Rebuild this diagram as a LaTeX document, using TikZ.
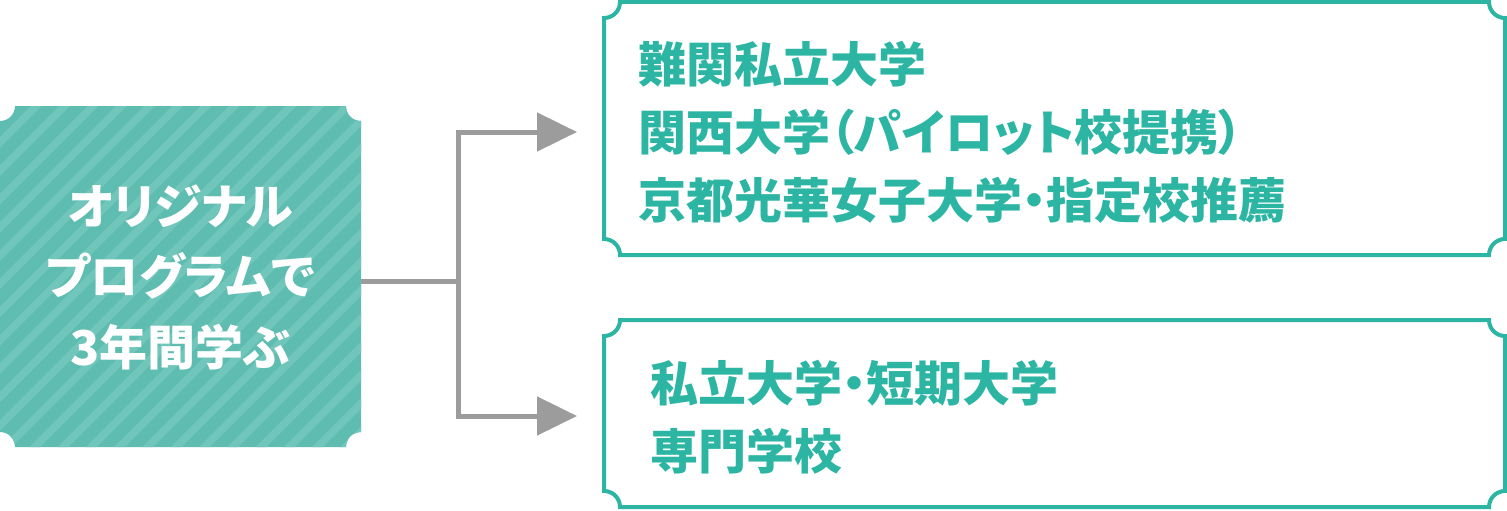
\documentclass[tikz,border=0pt]{standalone}
\usepackage{fontspec}
\newfontfamily\jp[RawFeature=+palt]{Noto Sans CJK JP}
\usetikzlibrary{arrows.meta,calc}
\definecolor{teal1}{RGB}{45,181,164}
\definecolor{boxbase}{RGB}{94,189,176}
\definecolor{boxlight}{RGB}{113,198,188}
\definecolor{conngray}{RGB}{156,156,156}
\newcommand\notchpath[2]{($(#1.north west)+(0,-#2)$) arc[start angle=-90,end angle=0,radius=#2] -- ($(#1.north east)+(-#2,0)$) arc[start angle=180,end angle=270,radius=#2] -- ($(#1.south east)+(0,#2)$) arc[start angle=90,end angle=180,radius=#2] -- ($(#1.south west)+(#2,0)$) arc[start angle=0,end angle=90,radius=#2] -- cycle}
\tikzset{
  frame/.style={rectangle,inner sep=0pt,outer sep=0pt,draw=none},
  outline/.style={draw=teal1,line width=2pt},
  stripe/.style={draw=boxlight,line width=3.8pt},
  ltext/.style={text=white,font=\jp\bfseries\fontsize{24pt}{35.25pt}\selectfont,align=center,inner sep=0pt},
  rtext/.style={text=teal1,font=\jp\bfseries\fontsize{24pt}{34pt}\selectfont,align=left,inner sep=0pt},
  conn/.style={draw=conngray,line width=2.5pt},
  arr/.style={-{Triangle[length=20pt,width=19pt]}}
}
\begin{document}
\begin{tikzpicture}[x=1pt,y=1pt]
\useasboundingbox (0,0) rectangle (753.5,255);
\node[frame,minimum width=180.5pt,minimum height=170.5pt] (lbox) at (90.25,116.75) {};
\node[frame,minimum width=450.5pt,minimum height=126.5pt] (tbox) at (527.25,190.75) {};
\node[frame,minimum width=450.5pt,minimum height=93.5pt] (bbox) at (527.25,48.25) {};
% left box
\fill[boxbase] \notchpath{lbox}{7.5pt};
\begin{scope}
\clip \notchpath{lbox}{7.5pt};
\foreach \k in {-16,...,12} \draw[stripe] (\k*14.14,0) -- ++(260,260);
\end{scope}
% right boxes
\draw[outline] \notchpath{tbox}{8pt};
\draw[outline] \notchpath{bbox}{8pt};
% texts
\node[ltext] (ltxt) at (90.25,116.5) {オリジナル\\プログラムで\\3年間学ぶ};
\node[rtext,anchor=west] (ttxt) at (319,189) {難関私立大学\\関西大学（パイロット校提携）\\京都光華女子大学・指定校推薦};
\node[rtext,anchor=west] (btxt) at (325,46.25) {私立大学・短期大学\\専門学校};
% connectors
\coordinate (jn) at (229,114.5);
\coordinate (e1) at (288.5,189);
\coordinate (e2) at (288.5,47);
\draw[conn] (lbox.east |- jn) -- (jn);
\draw[conn,arr] (jn) |- (e1);
\draw[conn,arr] (jn) |- (e2);
\end{tikzpicture}
\end{document}
